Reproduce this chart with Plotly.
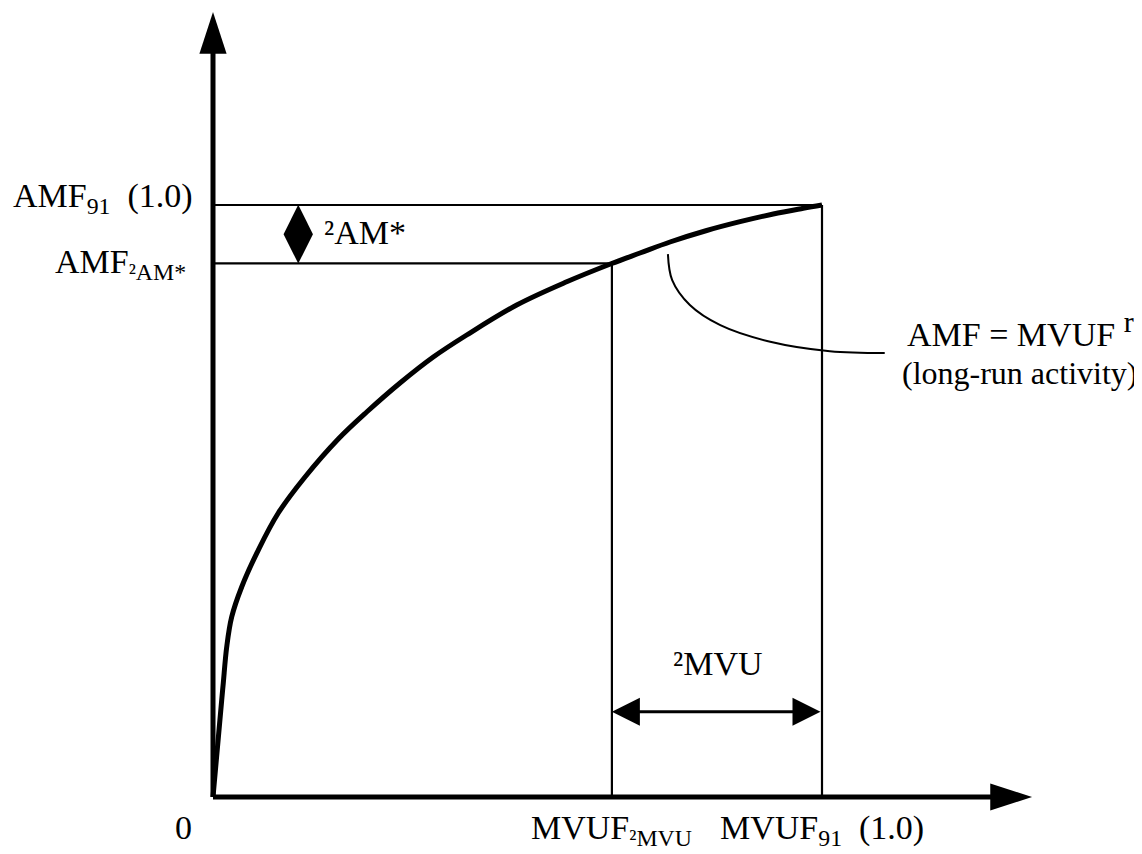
import plotly.graph_objects as go

# ---- data ----
curve_x = [0.0, 0.0143, 0.0169, 0.0225, 0.0307, 0.0471, 0.0744, 0.1072, 0.1511,
           0.2057, 0.2524, 0.3071, 0.3617, 0.4166, 0.4987, 0.5808, 0.6547,
           0.7011, 0.7504, 0.8107, 0.8654, 0.9200, 0.9693, 1.0]
curve_y = [0.0, 0.1639, 0.1926, 0.2534, 0.3041, 0.3547, 0.4172, 0.4797, 0.5405,
           0.6047, 0.6503, 0.6993, 0.7432, 0.7804, 0.8311, 0.8703, 0.9012,
           0.9189, 0.9375, 0.9569, 0.9718, 0.9848, 0.9944, 1.0]

mvuf_91 = 1.0        # MVUF_91
amf_91 = 1.0         # AMF_91
mvuf_dmvu = 0.655    # MVUF_dMVU
amf_dam = 0.9015     # AMF_dAM*

leader_x = [0.747, 0.754, 0.783, 0.833, 0.915, 1.013, 1.103]
leader_y = [0.917, 0.873, 0.831, 0.797, 0.769, 0.753, 0.750]

y_axis_top = 1.27
x_axis_end = 1.29
y_arrow_tip = 1.326
x_arrow_tip = 1.345
dmvu_level = 0.144
dam_mark_x = 0.14

FONT = "Liberation Serif, Times New Roman, serif"
FS = 34

fig = go.Figure()

def seg(xs, ys, w):
    fig.add_trace(go.Scatter(x=xs, y=ys, mode="lines",
                             line=dict(color="black", width=w),
                             hoverinfo="skip", showlegend=False))

# reference lines
seg([0, mvuf_91], [amf_91, amf_91], 2.2)
seg([mvuf_91, mvuf_91], [0, amf_91], 2.2)
seg([0, mvuf_dmvu], [amf_dam, amf_dam], 2.2)
seg([mvuf_dmvu, mvuf_dmvu], [0, amf_dam], 2.2)

# axes
seg([0, 0], [0, y_axis_top], 5)
seg([0, x_axis_end], [0, 0], 5)

# curve
fig.add_trace(go.Scatter(x=curve_x, y=curve_y, mode="lines",
                         line=dict(color="black", width=5, shape="spline",
                                   smoothing=1.0, simplify=False),
                         hoverinfo="skip", showlegend=False))

# leader line
fig.add_trace(go.Scatter(x=leader_x, y=leader_y, mode="lines",
                         line=dict(color="black", width=2, shape="spline", simplify=False),
                         hoverinfo="skip", showlegend=False))

# axis arrowheads
fig.add_trace(go.Scatter(x=[0], y=[y_arrow_tip], mode="markers",
                         marker=dict(symbol="arrow", size=44, color="black", angle=0),
                         hoverinfo="skip", showlegend=False))
fig.add_trace(go.Scatter(x=[x_arrow_tip], y=[0], mode="markers",
                         marker=dict(symbol="arrow", size=44, color="black", angle=90),
                         hoverinfo="skip", showlegend=False))

# dAM* diamond
fig.add_trace(go.Scatter(x=[dam_mark_x], y=[(amf_91 + amf_dam) / 2], mode="markers",
                         marker=dict(symbol="diamond-tall", size=42, color="black"),
                         hoverinfo="skip", showlegend=False))

# dMVU double arrow
fig.add_annotation(x=mvuf_dmvu, y=dmvu_level, ax=mvuf_91, ay=dmvu_level,
                   xref="x", yref="y", axref="x", ayref="y", text="",
                   showarrow=True, arrowside="start+end", arrowhead=2,
                   arrowwidth=2.8, arrowsize=2.0, arrowcolor="black")

def label(x, y, text, xanchor="center", yanchor="middle", size=FS):
    fig.add_annotation(x=x, y=y, xref="x", yref="y", text=text, showarrow=False,
                       xanchor=xanchor, yanchor=yanchor,
                       font=dict(family=FONT, size=size, color="black"))

label(-0.030, 1.012, "AMF<sub>91</sub>  (1.0)", xanchor="right")
label(-0.041, 0.900, "AMF<sub>²AM*</sub>", xanchor="right")
label(0.179, 0.953, "²AM*", xanchor="left")
label(0.829, 0.226, "²MVU")
label(-0.049, -0.052, "0")
label(mvuf_dmvu, -0.055, "MVUF<sub>²MVU</sub>")
label(mvuf_91, -0.055, "MVUF<sub>91</sub>  (1.0)")
label(1.326, 0.790,
      "AMF = MVUF <sup><span style='font-size:30px'>r</span></sup>")
label(1.324, 0.716, "(long-run activity)", size=32)

fig.update_layout(
    width=1142, height=854,
    margin=dict(l=0, r=0, t=0, b=0),
    paper_bgcolor="white", plot_bgcolor="white",
    xaxis=dict(range=[-0.33662, 1.53859], visible=False, fixedrange=True),
    yaxis=dict(range=[-0.10980, 1.33277], visible=False, fixedrange=True),
    showlegend=False,
)

fig.write_html("out.html")
